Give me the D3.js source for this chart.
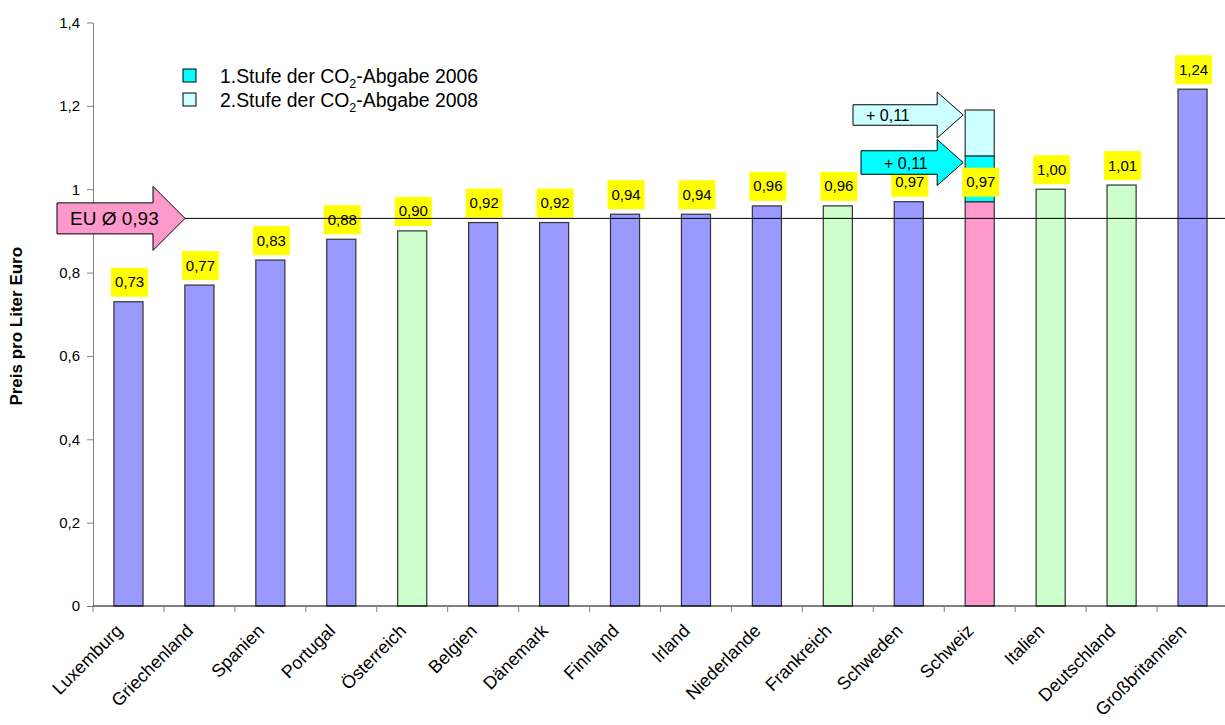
<!DOCTYPE html>
<html>
<head>
<meta charset="utf-8">
<script src="https://cdn.jsdelivr.net/npm/d3@7"></script>
<style>
  html, body { margin: 0; padding: 0; background: #fff; }
  svg { display: block; font-family: "Liberation Sans", Arial, sans-serif; }
</style>
</head>
<body>
<svg id="chart" width="1225" height="725"></svg>
<script>
// Benzinpreis pro Liter (Euro) im europäischen Vergleich
const countries = ["Luxemburg", "Griechenland", "Spanien", "Portugal", "Österreich", "Belgien",
  "Dänemark", "Finnland", "Irland", "Niederlande", "Frankreich", "Schweden", "Schweiz",
  "Italien", "Deutschland", "Großbritannien"];
const prices = [0.73, 0.77, 0.83, 0.88, 0.90, 0.92, 0.92, 0.94, 0.94, 0.96, 0.96, 0.97, 0.97,
  1.00, 1.01, 1.24];
// EU = EU-Land, NB = Nachbarland der Schweiz, CH = Schweiz
const groups = ["EU", "EU", "EU", "EU", "NB", "EU", "EU", "EU", "EU", "EU", "NB", "EU", "CH",
  "NB", "NB", "EU"];
const co2Steps = [0.11, 0.11];
const co2StepNames = ["1.Stufe der CO", "2.Stufe der CO"];
const co2StepYears = ["-Abgabe 2006", "-Abgabe 2008"];
const euAverage = 0.93;
const yTicks = [0, 0.2, 0.4, 0.6, 0.8, 1, 1.2, 1.4];
const yTitle = "Preis pro Liter Euro";

const groupColor = { EU: "#9999FF", NB: "#CCFFCC", CH: "#FF99CC" };
const stepColor = ["#00FFFF", "#CCFFFF"];

const loc = d3.formatLocale({ decimal: ",", thousands: ".", grouping: [3], currency: ["", " €"] });
const fmtTick = v => loc.format("~g")(v);
const fmtVal = loc.format(".2f");

const svg = d3.select("#chart");
const plotLeft = 93, plotRight = 1228, plotTop = 22.5, plotBottom = 606;

const x = d3.scaleBand().domain(countries).range([plotLeft, plotRight]).padding(0);
const y = d3.scaleLinear().domain([0, 1.4]).range([plotBottom, plotTop]);
const barW = x.bandwidth() * 0.41;
const cx = c => x(c) + x.bandwidth() / 2;

// y axis
const yAxis = svg.append("g")
  .attr("transform", `translate(${plotLeft},0)`)
  .call(d3.axisLeft(y).tickValues(yTicks).tickFormat(fmtTick).tickSize(6).tickSizeOuter(0).tickPadding(7));
yAxis.select(".domain").attr("stroke", "#808080");
yAxis.selectAll(".tick line").attr("stroke", "#808080");
yAxis.selectAll(".tick text").attr("font-size", 15).attr("fill", "#000")
  .attr("font-family", "Liberation Sans, Arial, sans-serif");

svg.append("text")
  .attr("transform", `translate(22,${(plotTop + plotBottom) / 2 + 12}) rotate(-90)`)
  .attr("text-anchor", "middle")
  .attr("font-size", 17).attr("font-weight", "bold")
  .text(yTitle);

// bars
const data = countries.map((c, i) => ({ c, v: prices[i], g: groups[i] }));
svg.append("g").selectAll("rect").data(data).join("rect")
  .attr("x", d => cx(d.c) - barW / 2)
  .attr("width", barW)
  .attr("y", d => y(d.v))
  .attr("height", d => y(0) - y(d.v))
  .attr("fill", d => groupColor[d.g])
  .attr("stroke", "#333").attr("stroke-width", 1.2);

// CO2-Abgabe stacked on top of the Swiss price
const ch = data.find(d => d.g === "CH");
let base = ch.v;
const stepBounds = co2Steps.map(s => { const b = { lo: base, hi: base + s }; base += s; return b; });
svg.append("g").selectAll("rect").data(stepBounds).join("rect")
  .attr("x", cx(ch.c) - barW / 2)
  .attr("width", barW)
  .attr("y", d => y(d.hi))
  .attr("height", d => y(d.lo) - y(d.hi))
  .attr("fill", (d, i) => stepColor[i])
  .attr("stroke", "#333").attr("stroke-width", 1.2);

// value labels
const lab = svg.append("g").selectAll("g").data(data).join("g")
  .attr("transform", d => `translate(${cx(d.c) + 1},${y(d.v) - 5})`);
lab.append("rect").attr("x", -18.5).attr("y", -29).attr("width", 37).attr("height", 29).attr("fill", "#FFFF00");
lab.append("text").attr("y", -9.5).attr("text-anchor", "middle").attr("font-size", 15)
  .text(d => fmtVal(d.v));

// x axis
svg.append("line").attr("x1", plotLeft).attr("x2", plotRight).attr("y1", plotBottom).attr("y2", plotBottom)
  .attr("stroke", "#000").attr("stroke-width", 1.2);
svg.append("g").selectAll("line").data(countries.concat([null])).join("line")
  .attr("x1", (d, i) => plotLeft + i * x.step()).attr("x2", (d, i) => plotLeft + i * x.step())
  .attr("y1", plotBottom).attr("y2", plotBottom + 6).attr("stroke", "#808080");
svg.append("g").selectAll("text").data(countries).join("text")
  .attr("transform", d => `translate(${cx(d) - 5},${plotBottom + 26}) rotate(-45)`)
  .attr("text-anchor", "end")
  .attr("font-size", 18)
  .text(d => d);

// EU average line
svg.append("line").attr("x1", plotLeft).attr("x2", plotRight).attr("y1", y(euAverage)).attr("y2", y(euAverage))
  .attr("stroke", "#000").attr("stroke-width", 1);

// block arrow: tip at (tx, ty)
function blockArrow(tx, ty, bodyLeft, bodyH, headW, headH, fill) {
  const hx = tx - headW;
  const pts = [[bodyLeft, ty - bodyH / 2], [hx, ty - bodyH / 2], [hx, ty - headH / 2], [tx, ty],
    [hx, ty + headH / 2], [hx, ty + bodyH / 2], [bodyLeft, ty + bodyH / 2]];
  svg.append("polygon").attr("points", pts.map(p => p.join(",")).join(" "))
    .attr("fill", fill).attr("stroke", "#000").attr("stroke-width", 1);
}

// EU average arrow
blockArrow(185, y(euAverage), 57, 31, 32, 64, "#FF99CC");
svg.append("text").attr("x", 70).attr("y", y(euAverage) + 7).attr("font-size", 19)
  .text("EU Ø " + fmtVal(euAverage));

// CO2 step arrows pointing at the Swiss bar
const tipX = cx(ch.c) - barW / 2 - 2;
const arrowSpec = [
  { ty: 162.5, left: 861, bodyH: 23.5, textX: 884 },
  { ty: 115, left: 853, bodyH: 20.5, textX: 866 }
];
[1, 0].forEach(i => {
  const a = arrowSpec[i];
  blockArrow(tipX, a.ty, a.left, a.bodyH, 26, 46, stepColor[i]);
  svg.append("text").attr("x", a.textX).attr("y", a.ty + 6)
    .attr("font-size", 16).text("+ " + fmtVal(co2Steps[i]));
});

// legend
const leg = svg.append("g").selectAll("g").data(co2Steps).join("g")
  .attr("transform", (d, i) => `translate(183,${69 + i * 24})`);
leg.append("rect").attr("width", 13).attr("height", 13)
  .attr("fill", (d, i) => stepColor[i]).attr("stroke", "#000").attr("stroke-width", 1);
const lt = leg.append("text").attr("x", 37).attr("y", 13.5).attr("font-size", 19.4);
lt.append("tspan").text((d, i) => co2StepNames[i]);
lt.append("tspan").attr("font-size", 12.5).attr("dy", 5).text("2");
lt.append("tspan").attr("dy", -5).text((d, i) => co2StepYears[i]);
</script>
</body>
</html>
